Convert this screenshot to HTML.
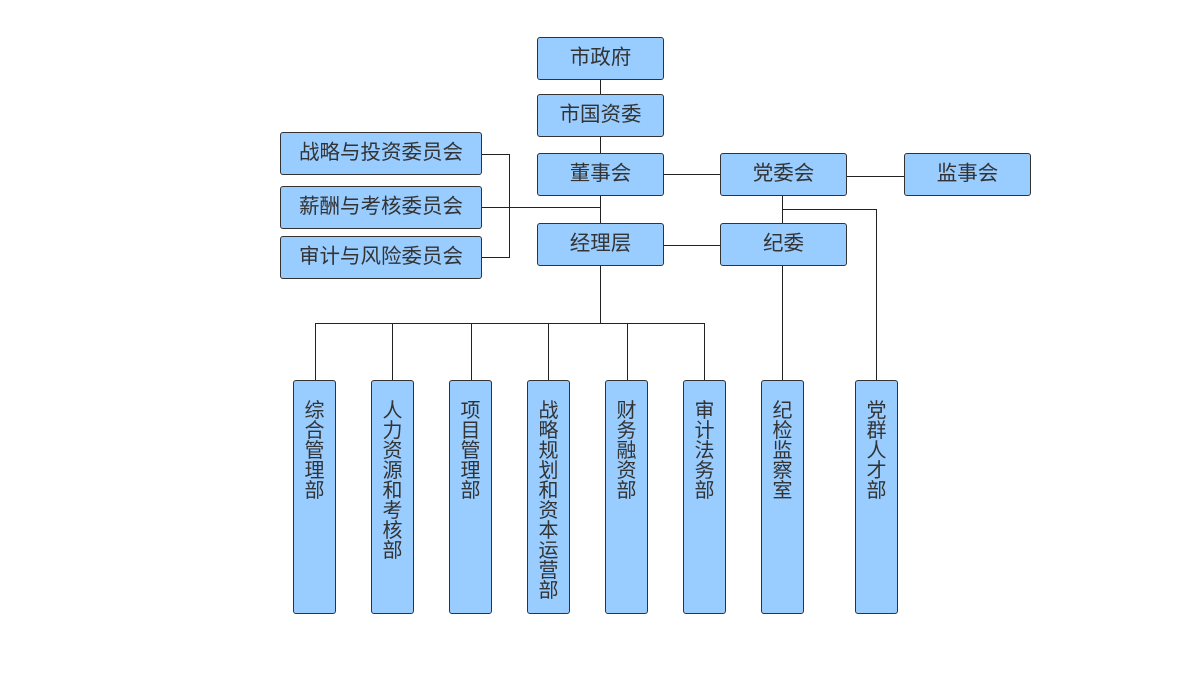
<!DOCTYPE html>
<html><head><meta charset="utf-8"><style>
body{margin:0;width:1200px;height:692px;background:#fff;position:relative;overflow:hidden;font-family:"Liberation Sans","Noto Sans CJK SC",sans-serif;}
.b{position:absolute;box-sizing:border-box;background:#99ccff;border:1px solid #333;border-radius:3px;color:#333;font-size:20.5px;display:flex;align-items:center;justify-content:center;line-height:1;padding-bottom:1px}
.v{position:absolute;box-sizing:border-box;background:#99ccff;border:1px solid #333;border-radius:3px;color:#333;font-size:20px;text-align:center;line-height:20px;padding-top:20px;top:380px;height:234px;width:43px}
svg{position:absolute;left:0;top:0}
</style></head><body>
<svg width="1200" height="692"><g stroke="#222" stroke-width="1" fill="none" shape-rendering="crispEdges">
<path d="M600.5 79V323"/>
<path d="M481 154.5H509.5V257.5H481M481 207.5H600"/>
<path d="M663 174.5H720M846 176.5H904M663 245.5H720"/>
<path d="M782.5 195V223M782.5 209.5H876.5V380M782.5 265V380"/>
<path d="M315.5 380V323.5H704.5V380M392.5 323V380M471.5 323V380M548.5 323V380M627.5 323V380"/>
</g></svg>
<div class="b" style="left:537px;top:37px;width:127px;height:43px">市政府</div>
<div class="b" style="left:537px;top:94px;width:127px;height:43px">市国资委</div>
<div class="b" style="left:537px;top:153px;width:127px;height:43px">董事会</div>
<div class="b" style="left:537px;top:223px;width:127px;height:43px">经理层</div>
<div class="b" style="left:720px;top:153px;width:127px;height:43px">党委会</div>
<div class="b" style="left:720px;top:223px;width:127px;height:43px">纪委</div>
<div class="b" style="left:904px;top:153px;width:127px;height:43px">监事会</div>
<div class="b" style="left:280px;top:132px;width:202px;height:43px">战略与投资委员会</div>
<div class="b" style="left:280px;top:186px;width:202px;height:43px">薪酬与考核委员会</div>
<div class="b" style="left:280px;top:236px;width:202px;height:43px">审计与风险委员会</div>
<div class="v" style="left:293px">综<br>合<br>管<br>理<br>部</div>
<div class="v" style="left:371px">人<br>力<br>资<br>源<br>和<br>考<br>核<br>部</div>
<div class="v" style="left:449px">项<br>目<br>管<br>理<br>部</div>
<div class="v" style="left:527px">战<br>略<br>规<br>划<br>和<br>资<br>本<br>运<br>营<br>部</div>
<div class="v" style="left:605px">财<br>务<br>融<br>资<br>部</div>
<div class="v" style="left:683px">审<br>计<br>法<br>务<br>部</div>
<div class="v" style="left:761px">纪<br>检<br>监<br>察<br>室</div>
<div class="v" style="left:855px">党<br>群<br>人<br>才<br>部</div>
</body></html>
